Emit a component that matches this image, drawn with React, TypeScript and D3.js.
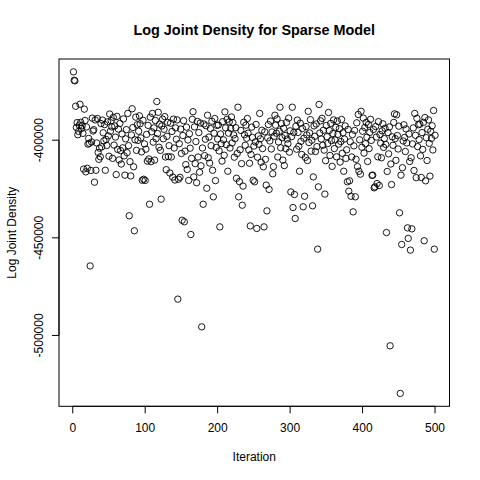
import * as d3 from 'd3';

// log joint density per iteration (1..500)
const logJoint = [
  -365000, -369300, -369600, -382600, -393500, -391000, -397200, -395500, -392300, -381600,
  -390800, -394000, -392600, -396500, -414800, -384100, -389900, -416200, -393200, -414400,
  -402000, -399100, -401600, -464400, -415500, -400900, -388700, -395300, -394600, -421500,
  -389600, -415400, -401400, -388900, -406300, -409800, -404100, -408500, -391500, -403400,
  -389700, -396200, -400300, -392000, -415400, -399600, -402700, -390600, -397800, -408200,
  -386600, -395400, -390000, -393200, -409300, -388300, -402500, -392700, -398400, -417600,
  -387800, -404700, -394300, -410100, -391400, -405300, -412200, -396800, -403900, -389100,
  -408000, -417900, -399300, -394600, -406400, -386300, -402800, -438700, -411000, -418300,
  -397300, -383900, -393500, -413600, -446400, -399800, -388200, -405200, -392100, -400100,
  -395400, -387500, -391600, -398800, -406000, -420500, -389800, -420000, -401900, -420600,
  -404600, -397000, -410700, -392400, -409600, -432800, -388200, -411000, -395700, -386300,
  -401000, -393700, -410200, -389900, -399200, -380200, -396600, -385700, -403600, -391800,
  -405200, -430200, -392700, -389200, -399300, -394400, -387900, -408600, -415100, -398000,
  -390900, -408400, -402800, -416800, -391300, -408600, -395500, -418900, -389200, -404000,
  -420400, -393700, -399500, -389600, -481400, -420000, -401800, -419000, -394300, -406800,
  -441000, -397600, -390000, -441800, -405600, -412500, -393300, -415000, -399900, -420600,
  -396700, -404100, -448300, -409300, -389300, -385400, -418800, -393200, -412000, -400700,
  -421800, -390400, -408600, -396100, -416400, -391200, -413100, -495600, -404000, -432800,
  -391700, -407900, -399500, -392600, -424600, -387200, -409000, -398400, -411700, -394000,
  -402800, -390300, -415400, -429000, -396400, -388900, -420700, -403700, -392400, -399400,
  -392200, -405500, -444400, -396800, -401800, -410700, -390500, -399800, -407700, -385500,
  -393700, -402300, -389300, -415900, -396400, -390600, -404000, -394000, -388100, -401400,
  -391000, -397300, -408700, -399200, -393600, -419500, -406800, -383100, -429000, -421200,
  -404900, -395000, -412000, -433300, -423500, -390800, -397200, -402600, -392300, -399000,
  -388900, -396400, -405000, -411800, -443900, -407300, -393300, -398600, -420500, -403000,
  -421300, -400900, -391900, -445200, -408700, -397800, -402100, -386300, -399300, -411300,
  -394900, -404300, -413600, -444400, -395700, -409800, -423000, -436200, -398800, -392000,
  -425200, -400400, -390200, -404500, -395800, -417200, -413500, -398000, -387200, -392300,
  -396400, -389100, -408600, -400900, -395400, -383100, -403900, -391500, -398700, -410200,
  -393900, -413000, -397600, -404300, -390900, -399400, -401800, -388700, -406100, -395200,
  -426500, -398200, -383100, -434500, -396100, -427800, -440100, -392800, -404600, -389700,
  -396000, -403100, -415900, -391300, -400600, -407300, -394000, -434100, -399000, -428700,
  -408800, -393000, -397300, -410400, -385200, -401200, -396300, -389500, -405600, -400000,
  -433600, -418800, -392700, -398000, -405800, -391700, -403300, -455800, -423900, -381700,
  -396300, -390100, -399400, -388800, -402600, -394900, -405100, -427600, -410500, -392500,
  -398200, -401700, -385800, -395000, -407800, -391400, -400200, -413400, -396600, -389600,
  -404300, -399900, -393400, -408500, -390200, -397000, -402000, -394100, -411200, -400700,
  -389400, -406700, -396200, -415900, -399400, -392700, -409300, -404900, -421300, -394500,
  -426100, -420800, -400800, -428700, -408600, -397100, -436700, -402900, -395000, -429000,
  -409800, -391100, -413500, -386800, -415900, -399800, -417400, -385200, -403600, -395400,
  -388700, -406600, -393500, -401800, -390900, -398500, -410900, -392000, -404300, -396000,
  -389300, -400100, -418000, -417900, -394500, -424400, -423900, -393000, -398400, -422200,
  -408500, -390500, -423200, -397100, -401500, -409000, -395200, -391600, -403700, -399200,
  -393900, -402200, -447300, -416000, -396100, -407000, -393200, -505300, -412200, -422700,
  -398300, -402600, -390900, -386500, -399200, -410300, -387000, -397600, -404500, -392800,
  -437200, -529700, -417900, -453400, -414100, -400400, -392100, -398600, -405800, -394200,
  -401400, -444900, -450300, -396800, -410900, -456300, -409000, -445400, -401900, -393700,
  -415500, -386300, -397500, -419200, -388800, -403300, -392100, -399700, -391800, -408000,
  -419100, -396100, -404700, -390900, -451500, -388400, -420800, -398700, -410400, -394400,
  -389600, -401600, -418400, -395500, -399100, -392600, -405000, -384800, -455800, -397500,
];

const xTicks = [0, 100, 200, 300, 400, 500];
const yTicks = [-500000, -450000, -400000];

const W = 480;
const H = 480;
const box = { left: 59, right: 449.5, top: 59, bottom: 406.3 };
const font = '"Liberation Sans", Arial, Helvetica, sans-serif';

// R-style 4% padding around the data range
const pad = ([lo, hi]: [number, number]) => {
  const d = (hi - lo) * 0.04;
  return [lo - d, hi + d];
};

export default function App() {
  const x = d3.scaleLinear()
    .domain(pad([1, logJoint.length]))
    .range([box.left, box.right]);
  const y = d3.scaleLinear()
    .domain(pad(d3.extent(logJoint) as [number, number]))
    .range([box.bottom, box.top]);

  const plotMid = (box.left + box.right) / 2;
  const yMid = (box.top + box.bottom) / 2;

  return (
    <svg
      width={W}
      height={H}
      style={{ position: 'absolute', left: 0, top: 0, background: '#fff' }}
      fontFamily={font}
    >
      <rect x={0} y={0} width={W} height={H} fill="#fff" />
      <text x={plotMid} y={35} textAnchor="middle" fontSize={14.4} fontWeight="bold">
        Log Joint Density for Sparse Model
      </text>

      {/* points */}
      <g fill="none" stroke="#000" strokeWidth={0.9}>
        {logJoint.map((v, i) => (
          <circle key={i} cx={x(i + 1)} cy={y(v)} r={3.2} />
        ))}
      </g>

      {/* frame */}
      <rect
        x={box.left}
        y={box.top}
        width={box.right - box.left}
        height={box.bottom - box.top}
        fill="none"
        stroke="#000"
        strokeWidth={1}
      />

      {/* x axis */}
      <g stroke="#000" strokeWidth={1}>
        <line x1={x(xTicks[0])} x2={x(xTicks[xTicks.length - 1])} y1={box.bottom} y2={box.bottom} />
        {xTicks.map((t) => (
          <line key={t} x1={x(t)} x2={x(t)} y1={box.bottom} y2={box.bottom + 7} />
        ))}
      </g>
      {xTicks.map((t) => (
        <text key={t} x={x(t)} y={432} textAnchor="middle" fontSize={12}>
          {t}
        </text>
      ))}
      <text x={plotMid} y={461} textAnchor="middle" fontSize={12}>
        Iteration
      </text>

      {/* y axis */}
      <g stroke="#000" strokeWidth={1}>
        <line x1={box.left} x2={box.left} y1={y(yTicks[0])} y2={y(yTicks[yTicks.length - 1])} />
        {yTicks.map((t) => (
          <line key={t} x1={box.left - 7} x2={box.left} y1={y(t)} y2={y(t)} />
        ))}
      </g>
      {yTicks.map((t) => (
        <text
          key={t}
          transform={`translate(43,${y(t)}) rotate(-90)`}
          textAnchor="middle"
          fontSize={12}
        >
          {t}
        </text>
      ))}
      <text
        transform={`translate(16,${yMid}) rotate(-90)`}
        textAnchor="middle"
        fontSize={12}
      >
        Log Joint Density
      </text>
    </svg>
  );
}
